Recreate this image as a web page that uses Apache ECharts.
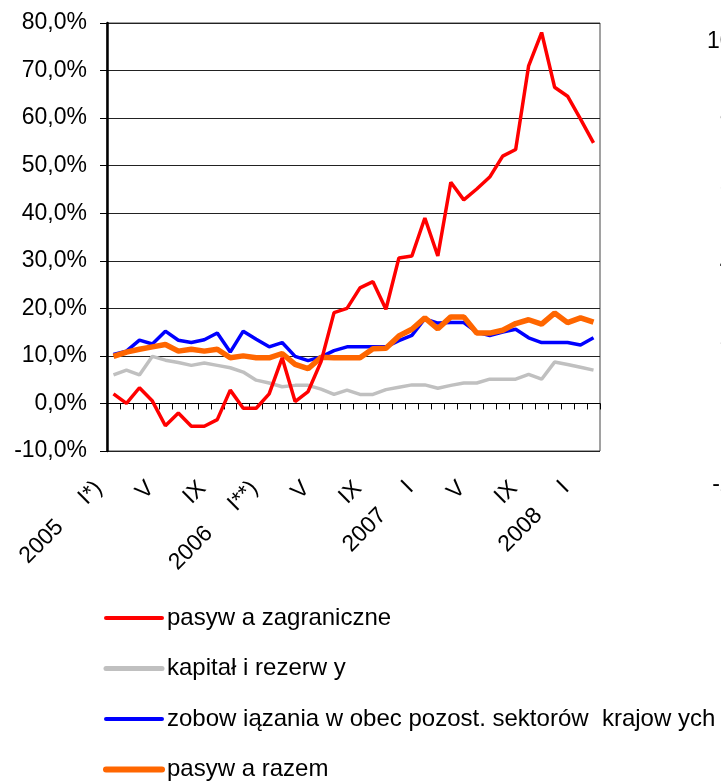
<!DOCTYPE html>
<html>
<head>
<meta charset="utf-8">
<script src="https://cdn.jsdelivr.net/npm/echarts@6/dist/echarts.min.js"></script>
<style>
  html, body { margin: 0; padding: 0; background: #fff; }
  #chart { width: 721px; height: 782px; }
</style>
</head>
<body>
<div id="chart"></div>
<script>
// miesiące 2005 I - 2008 II
var tickLabels = [
  '2005 I*)', 'II', 'III', 'IV', 'V', 'VI', 'VII', 'VIII', 'IX', 'X', 'XI', 'XII',
  '2006 I**)', 'II', 'III', 'IV', 'V', 'VI', 'VII', 'VIII', 'IX', 'X', 'XI', 'XII',
  '2007 I', 'II', 'III', 'IV', 'V', 'VI', 'VII', 'VIII', 'IX', 'X', 'XI', 'XII',
  '2008 I', 'II'
];

var seriesNames = [
  'pasyw a zagraniczne',
  'kapitał i rezerw y',
  'zobow iązania w obec pozost. sektorów  krajow ych',
  'pasyw a razem'
];

var pasywaZagraniczne = [
  2.0, 0.0, 3.3, 0.5, -4.7, -2.0, -4.8, -4.8, -3.4, 2.8, -1.0, -1.0,
  2.0, 9.6, 0.4, 2.5, 8.8, 19.1, 20.0, 24.3, 25.6, 19.8, 30.6, 31.0,
  39.0, 31.0, 46.5, 42.8, 45.1, 47.6, 52.0, 53.4, 71.0, 78.0, 66.5, 64.6,
  59.8, 54.8
];

var kapitalRezerwy = [
  6.0, 7.0, 6.0, 9.9, 9.1, 8.6, 8.0, 8.5, 8.0, 7.5, 6.6, 4.9,
  4.3, 3.5, 3.8, 3.8, 3.0, 1.9, 2.8, 1.9, 1.9, 2.9, 3.4, 3.9,
  3.9, 3.2, 3.8, 4.3, 4.3, 5.1, 5.1, 5.1, 6.1, 5.1, 8.7, 8.2,
  7.6, 7.0
];

var zobowiazania = [
  10.3, 11.0, 13.3, 12.5, 15.2, 13.3, 12.8, 13.4, 14.8, 10.8, 15.2, 13.5,
  11.9, 12.8, 9.9, 9.0, 9.8, 11.1, 11.9, 11.9, 11.9, 11.9, 13.2, 14.3,
  17.8, 16.9, 17.0, 17.0, 15.0, 14.3, 15.0, 15.6, 13.8, 12.8, 12.8, 12.8,
  12.3, 13.8
];

var pasywaRazem = [
  9.9, 10.8, 11.4, 11.9, 12.4, 11.0, 11.4, 11.0, 11.4, 9.6, 10.0, 9.6,
  9.6, 10.5, 8.2, 7.3, 9.7, 9.6, 9.6, 9.6, 11.5, 11.6, 14.2, 15.6,
  18.0, 15.7, 18.2, 18.2, 14.8, 14.8, 15.4, 16.8, 17.6, 16.7, 19.0, 17.0,
  18.0, 17.1
];

// obcięta oś sąsiedniego wykresu (prawa krawędź)
var sideTicks = { min: -20, max: 100, step: 20 };

var FONT = '"Liberation Sans", Arial, sans-serif';
var colors = ['#ff0000', '#c0c0c0', '#0000ff', '#ff6600'];
var widths = [3.5, 3.5, 3.5, 5.5];
var legendWidths = [4, 5, 4, 6];

function pct(v) {
  return v.toFixed(1).replace('.', ',') + '%';
}

var chart = echarts.init(document.getElementById('chart'), null, { renderer: 'canvas' });

var values = [pasywaZagraniczne, kapitalRezerwy, zobowiazania, pasywaRazem];
var zOrder = [5, 2, 3, 4];

var option = {
  backgroundColor: '#fff',
  animation: false,
  textStyle: { fontFamily: FONT, color: '#000' },
  grid: [
    {
      left: 107, top: 23, width: 493, height: 428,
      show: true, borderColor: '#444', borderWidth: 1,
      containLabel: false, outerBoundsMode: 'none'
    },
    {
      left: 805, top: 42, width: 300, height: 443,
      containLabel: false, outerBoundsMode: 'none'
    }
  ],
  legend: {
    orient: 'vertical',
    left: 103,
    top: 606,
    padding: 0,
    itemWidth: 56,
    itemHeight: 14,
    itemGap: 26.5,
    height: 200,
    textStyle: { fontSize: 24, color: '#000', fontFamily: FONT },
    data: seriesNames.map(function (n, i) {
      return {
        name: n,
        itemStyle: { opacity: 0 },
        lineStyle: { color: colors[i], width: legendWidths[i], cap: 'round' }
      };
    })
  },
  xAxis: [
    {
      gridIndex: 0,
      type: 'category',
      position: 'top',
      data: tickLabels,
      boundaryGap: true,
      axisLine: { onZero: true, lineStyle: { color: '#000', width: 1 } },
      axisTick: { show: true, inside: true, interval: 0, length: 6, lineStyle: { color: '#000' } },
      axisLabel: { show: false },
      splitLine: { show: false }
    },
    {
      gridIndex: 0,
      type: 'category',
      position: 'bottom',
      data: tickLabels,
      boundaryGap: true,
      axisLine: { show: false, onZero: false },
      axisTick: { show: false },
      axisLabel: {
        interval: 3,
        rotate: 45,
        margin: 19,
        padding: [0, 21, 0, 0],
        fontSize: 23,
        color: '#000',
        fontFamily: FONT,
        formatter: function (v) { return v.replace(' ', '     '); }
      },
      splitLine: { show: false }
    },
    {
      gridIndex: 1,
      type: 'value',
      show: false
    }
  ],
  yAxis: [
    {
      gridIndex: 0,
      type: 'value',
      min: -10,
      max: 80,
      interval: 10,
      axisLine: { show: true, onZero: false, lineStyle: { color: '#000', width: 2.5 } },
      axisTick: { show: true, length: 7, lineStyle: { color: '#000' } },
      axisLabel: { fontSize: 23, color: '#000', margin: 20, fontFamily: FONT, formatter: pct },
      splitLine: { show: true, lineStyle: { color: '#222', width: 1 } }
    },
    {
      gridIndex: 1,
      type: 'value',
      min: sideTicks.min,
      max: sideTicks.max,
      interval: sideTicks.step,
      axisLine: { show: false },
      axisTick: { show: false },
      axisLabel: { fontSize: 23, color: '#000', margin: 20, fontFamily: FONT, formatter: pct },
      splitLine: { show: false }
    }
  ],
  series: seriesNames.map(function (n, i) {
    return {
      name: n,
      type: 'line',
      data: values[i],
      symbol: 'none',
      z: zOrder[i],
      color: colors[i],
      lineStyle: { color: colors[i], width: widths[i] }
    };
  })
};

chart.setOption(option);
</script>
</body>
</html>
